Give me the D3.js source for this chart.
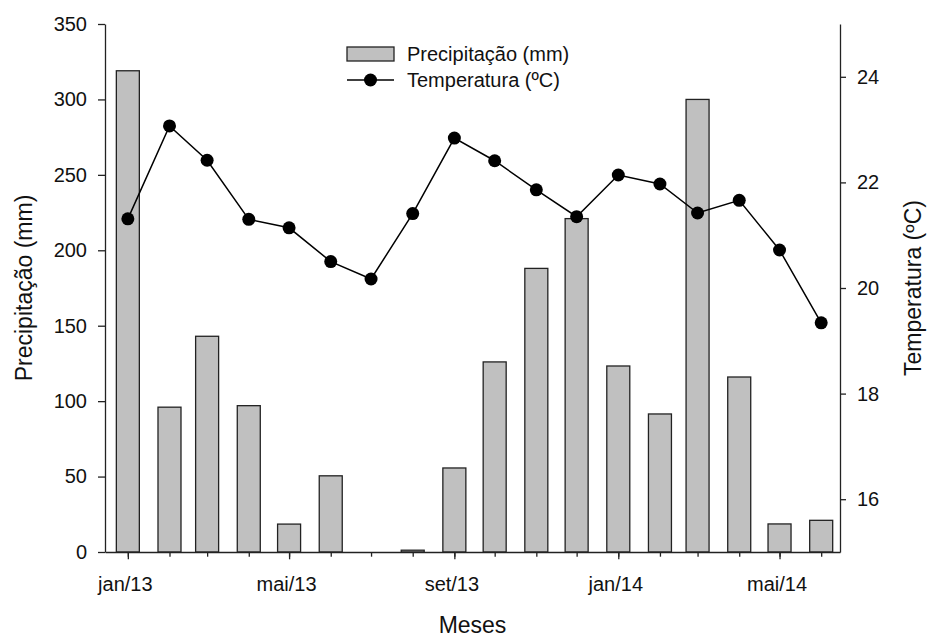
<!DOCTYPE html>
<html>
<head>
<meta charset="UTF-8">
<title>Precipitação e temperatura</title>
<script src="https://cdn.jsdelivr.net/npm/d3@7"></script>
<style>
  body { margin: 0; background: #fff; }
  svg { font-family: "Liberation Sans", Arial, sans-serif; }
  .axis path, .axis line { stroke: #222; stroke-width: 1.3; }
  .axis text { font-size: 20px; fill: #111; }
  .bar { fill: #c0c0c0; stroke: #222; stroke-width: 1.3; }
  .linha { fill: none; stroke: #000; stroke-width: 1.5; }
  .titulo { font-size: 23px; fill: #111; }
  .legenda text { font-size: 20px; fill: #111; }
</style>
</head>
<body>
<div id="grafico"></div>
<script>
// dados (jan/13 a jun/14)
var meses = ["2013-01", "2013-02", "2013-03", "2013-04", "2013-05", "2013-06",
             "2013-07", "2013-08", "2013-09", "2013-10", "2013-11", "2013-12",
             "2014-01", "2014-02", "2014-03", "2014-04", "2014-05", "2014-06"];
var precipitacao = [319, 96, 143, 97, 18.5, 50.5, 0, 1.2, 55.7, 126, 188, 221,
                    123.3, 91.5, 300, 116, 18.6, 21];
var temperatura = [21.31, 23.07, 22.42, 21.30, 21.14, 20.50, 20.17, 21.41, 22.84,
                   22.41, 21.86, 21.35, 22.14, 21.97, 21.42, 21.66, 20.72, 19.34];
var nomesMes = ["jan", "fev", "mar", "abr", "mai", "jun", "jul", "ago", "set", "out", "nov", "dez"];
var ticksPrec = [0, 50, 100, 150, 200, 250, 300, 350];
var ticksTemp = [16, 18, 20, 22, 24];

var width = 928, height = 637;
var margin = {top: 24, right: 88, bottom: 85, left: 105};

var parse = d3.timeParse("%Y-%m");
var dados = meses.map(function(m, i) {
  return {data: parse(m), prec: precipitacao[i], temp: temperatura[i]};
});

var svg = d3.select("#grafico").append("svg")
  .attr("width", width)
  .attr("height", height);

var x = d3.scaleTime()
  .domain([new Date(2012, 11, 15), new Date(2014, 5, 15)])
  .range([margin.left, width - margin.right]);
var yP = d3.scaleLinear()
  .domain([0, 350])
  .range([height - margin.bottom, margin.top]);
var yT = d3.scaleLinear()
  .domain([15, 25])
  .range([height - margin.bottom, margin.top]);

var larguraBarra = 23;

// barras
svg.append("g").selectAll(".bar")
  .data(dados)
  .enter().append("rect")
  .attr("class", "bar")
  .attr("x", function(d) { return x(d.data) - larguraBarra / 2; })
  .attr("width", larguraBarra)
  .attr("y", function(d) { return yP(d.prec); })
  .attr("height", function(d) { return yP(0) - yP(d.prec); });

// linha de temperatura
var linha = d3.line()
  .x(function(d) { return x(d.data); })
  .y(function(d) { return yT(d.temp); });

svg.append("path")
  .datum(dados)
  .attr("class", "linha")
  .attr("d", linha);

svg.append("g").selectAll("circle")
  .data(dados)
  .enter().append("circle")
  .attr("cx", function(d) { return x(d.data); })
  .attr("cy", function(d) { return yT(d.temp); })
  .attr("r", 6.5)
  .attr("fill", "#000");

// eixos
var base = height - margin.bottom;
svg.append("g")
  .attr("class", "axis")
  .attr("transform", "translate(0," + base + ")")
  .call(d3.axisBottom(x).ticks(d3.timeMonth.every(1)).tickSize(4.7).tickSizeOuter(0).tickFormat(""));

var eixoX = svg.append("g")
  .attr("class", "axis")
  .attr("transform", "translate(0," + base + ")")
  .call(d3.axisBottom(x).ticks(d3.timeMonth.every(4)).tickSize(7.3).tickSizeOuter(0).tickPadding(17)
    .tickFormat(function(d) { return nomesMes[d.getMonth()] + "/" + d3.timeFormat("%y")(d); }));
eixoX.select(".domain").remove();
eixoX.selectAll("text").attr("dx", "-3");

svg.append("g")
  .attr("class", "axis")
  .attr("transform", "translate(" + margin.left + ",0)")
  .call(d3.axisLeft(yP).tickValues(ticksPrec).tickSize(7).tickSizeOuter(0).tickPadding(11));

svg.append("g")
  .attr("class", "axis")
  .attr("transform", "translate(" + (width - margin.right) + ",0)")
  .call(d3.axisRight(yT).tickValues(ticksTemp).tickSize(6).tickSizeOuter(0).tickPadding(11));

// títulos
svg.append("text")
  .attr("class", "titulo")
  .attr("text-anchor", "middle")
  .attr("x", (margin.left + width - margin.right) / 2)
  .attr("y", 633)
  .text("Meses");

svg.append("text")
  .attr("class", "titulo")
  .attr("text-anchor", "middle")
  .attr("transform", "translate(32," + (yP(175)) + ") rotate(-90)")
  .text("Precipitação (mm)");

svg.append("text")
  .attr("class", "titulo")
  .attr("text-anchor", "middle")
  .attr("transform", "translate(921," + (yP(175)) + ") rotate(-90)")
  .text("Temperatura (ºC)");

// legenda
var leg = svg.append("g").attr("class", "legenda");
leg.append("rect")
  .attr("class", "bar")
  .attr("x", 347).attr("y", 47)
  .attr("width", 47).attr("height", 14);
leg.append("text").attr("x", 407).attr("y", 60.5).text("Precipitação (mm)");
leg.append("line")
  .attr("x1", 347).attr("x2", 394)
  .attr("y1", 80).attr("y2", 80)
  .attr("stroke", "#000").attr("stroke-width", 1.5);
leg.append("circle").attr("cx", 370.5).attr("cy", 80).attr("r", 6.5).attr("fill", "#000");
leg.append("text").attr("x", 407).attr("y", 87).text("Temperatura (ºC)");
</script>
</body>
</html>
